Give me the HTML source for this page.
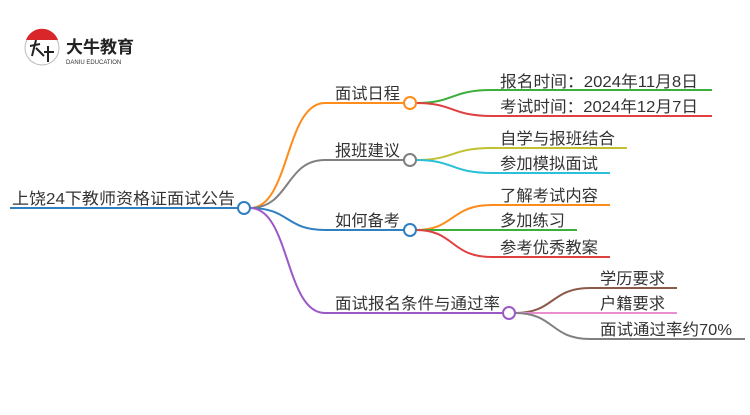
<!DOCTYPE html>
<html><head><meta charset="utf-8"><style>
body{margin:0;background:#fff;width:750px;height:410px;overflow:hidden}
svg text{font-family:"Liberation Sans","Noto Sans CJK SC",sans-serif;font-size:16px;fill:#333}
</style></head><body>
<svg width="750" height="410" viewBox="0 0 750 410" xmlns="http://www.w3.org/2000/svg">
<g fill="none" stroke-width="2">
<circle cx="42" cy="48" r="17" stroke="#bbb" stroke-width="1"/>
<path d="M26 40 A17 17 0 0 1 58 40 Z" fill="#d9262b" stroke="none"/>
<path d="M30 46 L40 44 M36 40 L32 56 M36 48 L44 56 M44 52 L54 52 M48 46 L48 62" stroke="#222" stroke-width="2"/>
<path d="M10 208 H238" stroke="#2f7fc1"/>
<path d="M250 208 C290 208 285 103 325 103 H404" stroke="#ff8c1a"/>
<path d="M250 208 C290 208 285 160 325 160 H404" stroke="#808080"/>
<path d="M250 208 C290 208 285 230 325 230 H404" stroke="#2f7fc1"/>
<path d="M250 208 C290 208 285 313 325 313 H503" stroke="#9b59c6"/>
<path d="M416 103 C455 103 450 90 492 90 H712" stroke="#3cae3c"/>
<path d="M416 103 C455 103 450 116 492 116 H712" stroke="#e04040"/>
<path d="M416 160 C455 160 450 148 492 148 H627" stroke="#c0c030"/>
<path d="M416 160 C455 160 450 173 492 173 H610" stroke="#2cc0d8"/>
<path d="M416 230 C455 230 450 205 492 205 H610" stroke="#ff8c1a"/>
<path d="M416 230 H577" stroke="#3cae3c"/>
<path d="M416 230 C455 230 450 257 492 257 H610" stroke="#e04040"/>
<path d="M515 313 C555 313 550 288 590 288 H677" stroke="#8b5a4a"/>
<path d="M515 313 H677" stroke="#e88fd0"/>
<path d="M515 313 C555 313 550 339 590 339 H745" stroke="#808080"/>
<circle cx="244" cy="208" r="6" fill="#fff" stroke="#2f7fc1"/>
<circle cx="410" cy="103" r="6" fill="#fff" stroke="#ff8c1a"/>
<circle cx="410" cy="160" r="6" fill="#fff" stroke="#808080"/>
<circle cx="410" cy="230" r="6" fill="#fff" stroke="#2f7fc1"/>
<circle cx="509" cy="313" r="6" fill="#fff" stroke="#9b59c6"/>
</g>
<text x="66" y="53" style="font-size:17px;font-weight:bold;fill:#222">大牛教育</text>
<text x="66" y="64" style="font-size:6px;fill:#333">DANIU EDUCATION</text>
<text x="12" y="204" textLength="223" lengthAdjust="spacingAndGlyphs">上饶24下教师资格证面试公告</text>
<text x="335" y="99" textLength="65" lengthAdjust="spacingAndGlyphs">面试日程</text>
<text x="335" y="156" textLength="65" lengthAdjust="spacingAndGlyphs">报班建议</text>
<text x="335" y="226" textLength="65" lengthAdjust="spacingAndGlyphs">如何备考</text>
<text x="335" y="309" textLength="165" lengthAdjust="spacingAndGlyphs">面试报名条件与通过率</text>
<text x="500" y="87" textLength="198" lengthAdjust="spacingAndGlyphs">报名时间：2024年11月8日</text>
<text x="500" y="112" textLength="198" lengthAdjust="spacingAndGlyphs">考试时间：2024年12月7日</text>
<text x="500" y="144" textLength="115" lengthAdjust="spacingAndGlyphs">自学与报班结合</text>
<text x="500" y="169" textLength="98" lengthAdjust="spacingAndGlyphs">参加模拟面试</text>
<text x="500" y="201" textLength="98" lengthAdjust="spacingAndGlyphs">了解考试内容</text>
<text x="500" y="226" textLength="65" lengthAdjust="spacingAndGlyphs">多加练习</text>
<text x="500" y="253" textLength="98" lengthAdjust="spacingAndGlyphs">参考优秀教案</text>
<text x="600" y="284" textLength="65" lengthAdjust="spacingAndGlyphs">学历要求</text>
<text x="600" y="309" textLength="65" lengthAdjust="spacingAndGlyphs">户籍要求</text>
<text x="600" y="335" textLength="132" lengthAdjust="spacingAndGlyphs">面试通过率约70%</text>
</svg>
</body></html>
